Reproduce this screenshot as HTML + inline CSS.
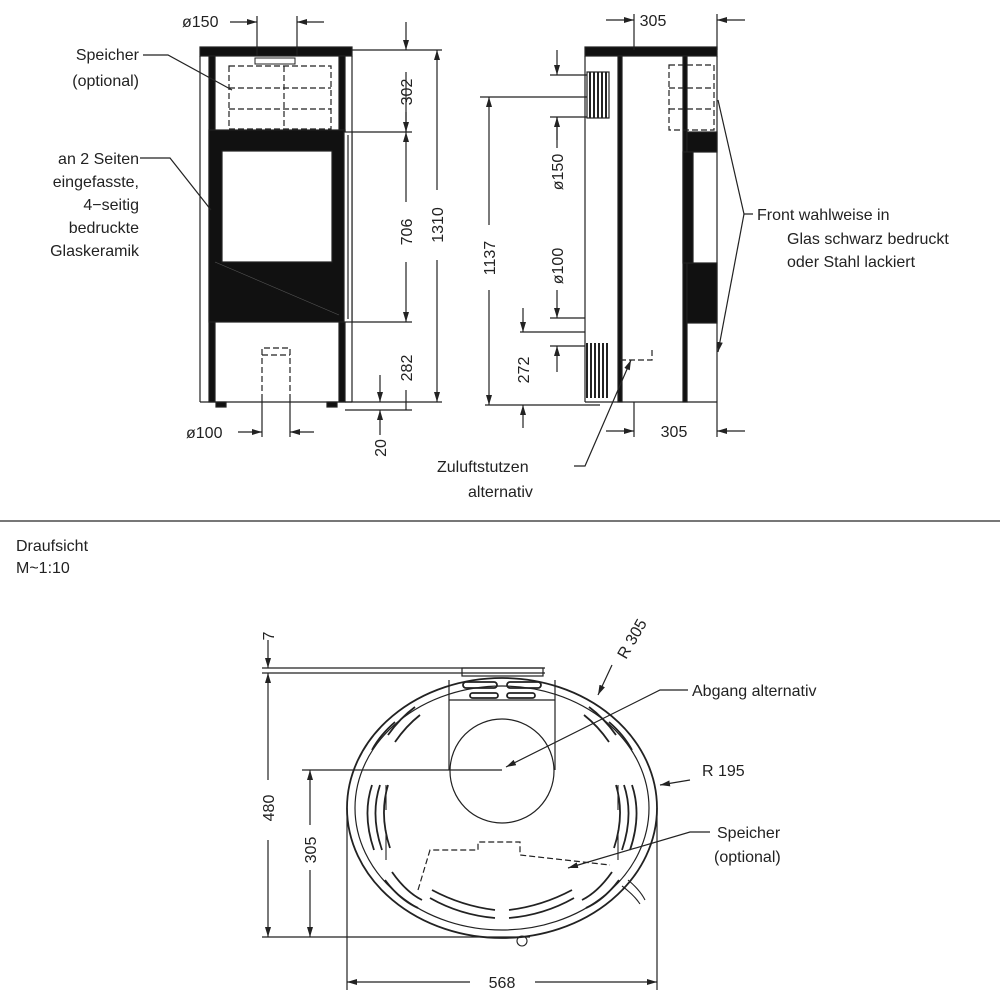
<!DOCTYPE html>
<html><head><meta charset="utf-8"><style>
html,body{margin:0;padding:0;background:#fff}
svg{display:block}
text{font-family:"Liberation Sans",sans-serif;font-size:16px;fill:#222}
</style></head><body>
<svg width="1000" height="1000" viewBox="0 0 1000 1000" xmlns="http://www.w3.org/2000/svg">
<defs>
<marker id="a" viewBox="0 0 10 6" refX="10" refY="3" markerWidth="10" markerHeight="6" orient="auto-start-reverse" markerUnits="userSpaceOnUse"><path d="M0,0 L10,3 L0,6z" fill="#222"/></marker>
</defs>
<g stroke="#222" fill="none" stroke-width="1.2">
<!-- FRONT VIEW -->
<rect x="200" y="47" width="152" height="9" fill="#111"/>
<line x1="200" y1="56" x2="200" y2="402"/>
<line x1="352" y1="56" x2="352" y2="402"/>
<rect x="209" y="56" width="6" height="346" fill="#111"/>
<rect x="339" y="56" width="6" height="346" fill="#111"/>
<line x1="200" y1="402" x2="352" y2="402"/>
<rect x="209" y="130" width="136" height="192" fill="#111"/>
<rect x="222" y="151" width="110" height="111" fill="#fff"/>
<line x1="215" y1="262" x2="339" y2="315" stroke="#555" stroke-width="0.6"/>
<rect x="344" y="132" width="8" height="190" fill="#fff"/>
<line x1="348" y1="135" x2="348" y2="319"/>
<g stroke-dasharray="6,3">
<rect x="229" y="66" width="102" height="63"/>
<line x1="229" y1="88" x2="331" y2="88"/><line x1="229" y1="109" x2="331" y2="109"/>
<line x1="284" y1="66" x2="284" y2="129"/>
<path d="M262,400 V348 H290 V400"/><line x1="262" y1="355" x2="290" y2="355"/>
</g>
<rect x="255" y="58" width="40" height="6" stroke-width="1"/>
<rect x="216" y="402" width="10" height="5" fill="#111"/><rect x="327" y="402" width="10" height="5" fill="#111"/>
<!-- front dims -->
<line x1="257" y1="16" x2="257" y2="56"/><line x1="297" y1="16" x2="297" y2="56"/>
<line x1="230" y1="22" x2="257" y2="22" marker-end="url(#a)"/><line x1="324" y1="22" x2="297" y2="22" marker-end="url(#a)"/>
<line x1="262" y1="400" x2="262" y2="437"/><line x1="290" y1="400" x2="290" y2="437"/>
<line x1="238" y1="432" x2="262" y2="432" marker-end="url(#a)"/><line x1="314" y1="432" x2="290" y2="432" marker-end="url(#a)"/>
<line x1="352" y1="50" x2="442" y2="50"/><line x1="352" y1="132" x2="412" y2="132"/>
<line x1="352" y1="322" x2="412" y2="322"/><line x1="345" y1="402" x2="442" y2="402"/><line x1="345" y1="410" x2="412" y2="410"/>
<line x1="406" y1="22" x2="406" y2="50" marker-end="url(#a)"/>
<line x1="406" y1="72" x2="406" y2="132"/><line x1="406" y1="112" x2="406" y2="132" marker-end="url(#a)"/>
<line x1="406" y1="132" x2="406" y2="202" marker-start="url(#a)"/>
<line x1="406" y1="262" x2="406" y2="322" marker-end="url(#a)"/>
<line x1="406" y1="390" x2="406" y2="410"/>
<line x1="437" y1="50" x2="437" y2="190" marker-start="url(#a)"/><line x1="437" y1="260" x2="437" y2="402" marker-end="url(#a)"/>
<line x1="380" y1="375" x2="380" y2="402" marker-end="url(#a)"/><line x1="380" y1="435" x2="380" y2="410" marker-end="url(#a)"/>
<!-- leaders -->
<polyline points="143,55 168,55 232,90"/><polyline points="140,158 170,158 211,210"/>
<!-- SIDE VIEW -->
<rect x="585" y="47" width="132" height="9" fill="#111"/>
<line x1="585" y1="56" x2="585" y2="402"/><line x1="717" y1="56" x2="717" y2="402"/>
<line x1="585" y1="402" x2="717" y2="402"/>
<rect x="618" y="56" width="4" height="346" fill="#111"/>
<rect x="683" y="56" width="4" height="346" fill="#111"/>
<rect x="687" y="132" width="30" height="20" fill="#111"/>
<rect x="687" y="263" width="30" height="60" fill="#111"/>
<rect x="683" y="152" width="10" height="111" fill="#111"/>
<g stroke-dasharray="6,3"><rect x="669" y="65" width="45" height="65"/><line x1="669" y1="88" x2="714" y2="88"/><line x1="669" y1="109" x2="714" y2="109"/><path d="M620,360 H652 V350"/></g>
<rect x="587" y="72" width="22" height="46" fill="#fff"/>
<g stroke-width="2"><line x1="590" y1="72" x2="590" y2="118"/><line x1="594" y1="72" x2="594" y2="118"/><line x1="598" y1="72" x2="598" y2="118"/><line x1="602" y1="72" x2="602" y2="118"/><line x1="606" y1="72" x2="606" y2="118"/>
<line x1="587" y1="343" x2="587" y2="398"/><line x1="591" y1="343" x2="591" y2="398"/><line x1="595" y1="343" x2="595" y2="398"/><line x1="599" y1="343" x2="599" y2="398"/><line x1="603" y1="343" x2="603" y2="398"/><line x1="607" y1="343" x2="607" y2="398"/></g>
<!-- side dims -->
<line x1="634" y1="14" x2="634" y2="50"/><line x1="717" y1="14" x2="717" y2="50"/>
<line x1="606" y1="20" x2="634" y2="20" marker-end="url(#a)"/><line x1="745" y1="20" x2="717" y2="20" marker-end="url(#a)"/>
<line x1="634" y1="402" x2="634" y2="437"/><line x1="717" y1="402" x2="717" y2="437"/>
<line x1="606" y1="431" x2="634" y2="431" marker-end="url(#a)"/><line x1="745" y1="431" x2="717" y2="431" marker-end="url(#a)"/>
<line x1="480" y1="97" x2="587" y2="97"/><line x1="485" y1="405" x2="600" y2="405"/>
<line x1="489" y1="97" x2="489" y2="225" marker-start="url(#a)"/><line x1="489" y1="290" x2="489" y2="405" marker-end="url(#a)"/>
<line x1="550" y1="75" x2="587" y2="75"/><line x1="550" y1="117" x2="587" y2="117"/>
<line x1="557" y1="50" x2="557" y2="75" marker-end="url(#a)"/><line x1="557" y1="140" x2="557" y2="117" marker-end="url(#a)"/>
<line x1="557" y1="117" x2="557" y2="148"/>
<line x1="550" y1="318" x2="585" y2="318"/><line x1="520" y1="332" x2="585" y2="332"/><line x1="550" y1="346" x2="585" y2="346"/>
<line x1="557" y1="290" x2="557" y2="318" marker-end="url(#a)"/><line x1="557" y1="372" x2="557" y2="346" marker-end="url(#a)"/>
<line x1="523" y1="308" x2="523" y2="332" marker-end="url(#a)"/><line x1="523" y1="428" x2="523" y2="405" marker-end="url(#a)"/>
<polyline points="753,214 744,214 718,100"/><line x1="744" y1="214" x2="718" y2="352" marker-end="url(#a)"/>
<polyline points="574,466 585,466 631,360" marker-end="url(#a)"/>
<!-- divider -->
<line x1="0" y1="521" x2="1000" y2="521" stroke="#777" stroke-width="2"/>
<!-- TOP VIEW -->
<line x1="262" y1="668" x2="545" y2="668"/><line x1="262" y1="673" x2="545" y2="673"/>
<rect x="462" y="668" width="81" height="8"/>
<ellipse cx="502" cy="808" rx="155" ry="130" stroke-width="1.8"/>
<ellipse cx="502" cy="808" rx="147" ry="122"/>
<path d="M449,680 V770 M555,680 V770 M449,700 H555"/>
<circle cx="502" cy="771" r="52"/>
<g stroke-width="1.8">
<rect x="463" y="682" width="34" height="6" rx="3"/><rect x="507" y="682" width="34" height="6" rx="3"/>
<rect x="470" y="693" width="28" height="5" rx="2.5"/><rect x="507" y="693" width="28" height="5" rx="2.5"/>
<path d="M372,785 Q362,815 374,850 M380,785 Q370,815 382,850 M388,785 Q379,815 390,848"/>
<path d="M632,785 Q642,815 630,850 M624,785 Q634,815 622,850 M616,785 Q625,815 614,848"/>
<path d="M430,898 Q460,915 495,918 M432,890 Q462,906 495,910 M574,898 Q544,915 509,918 M572,890 Q542,906 509,910"/>
<path d="M385,880 Q400,900 418,908 M392,872 Q406,892 422,900 M619,880 Q604,900 586,908 M612,872 Q598,892 582,900"/>
<path d="M415,707 Q400,718 388,735 M420,715 Q406,726 395,742 M589,707 Q604,718 616,735 M584,715 Q598,726 609,742"/>
<path d="M372,750 Q380,735 395,722 M632,750 Q624,735 609,722"/>
</g>
<g stroke-width="1.1">
<path d="M386,785 V810 M618,785 V810 M386,830 V860 M618,830 V860"/>
<circle cx="522" cy="941" r="5"/>
<path d="M628,880 Q640,890 645,900 M622,886 Q634,895 640,904"/>
</g>
<path d="M418,890 L430,850 H478 V842 H520 V855 L610,865" stroke-dasharray="6,3"/>
<!-- top dims -->
<line x1="268" y1="640" x2="268" y2="668" marker-end="url(#a)"/>
<line x1="268" y1="673" x2="268" y2="780" marker-start="url(#a)"/><line x1="268" y1="840" x2="268" y2="937" marker-end="url(#a)"/>
<line x1="262" y1="937" x2="530" y2="937"/>
<line x1="302" y1="770" x2="502" y2="770"/>
<line x1="310" y1="770" x2="310" y2="825" marker-start="url(#a)"/><line x1="310" y1="870" x2="310" y2="937" marker-end="url(#a)"/>
<line x1="347" y1="808" x2="347" y2="990"/><line x1="657" y1="808" x2="657" y2="990"/>
<line x1="347" y1="982" x2="470" y2="982" marker-start="url(#a)"/><line x1="535" y1="982" x2="657" y2="982" marker-end="url(#a)"/>
<line x1="612" y1="665" x2="598" y2="695" marker-end="url(#a)"/>
<polyline points="688,690 660,690 506,767" marker-end="url(#a)"/>
<line x1="690" y1="780" x2="660" y2="785" marker-end="url(#a)"/>
<polyline points="710,832 690,832 568,868" marker-end="url(#a)"/>
</g>
<g>
<text x="182" y="27">ø150</text>
<text x="186" y="438">ø100</text>
<text x="139" y="60" text-anchor="end">Speicher</text>
<text x="139" y="86" text-anchor="end">(optional)</text>
<text x="139" y="164" text-anchor="end">an 2 Seiten</text>
<text x="139" y="187" text-anchor="end">eingefasste,</text>
<text x="139" y="210" text-anchor="end">4−seitig</text>
<text x="139" y="233" text-anchor="end">bedruckte</text>
<text x="139" y="256" text-anchor="end">Glaskeramik</text>
<text transform="translate(412,92) rotate(-90)" text-anchor="middle">302</text>
<text transform="translate(412,232) rotate(-90)" text-anchor="middle">706</text>
<text transform="translate(412,368) rotate(-90)" text-anchor="middle">282</text>
<text transform="translate(443,225) rotate(-90)" text-anchor="middle">1310</text>
<text transform="translate(386,448) rotate(-90)" text-anchor="middle">20</text>
<text x="653" y="26" text-anchor="middle">305</text>
<text x="674" y="437" text-anchor="middle">305</text>
<text transform="translate(495,258) rotate(-90)" text-anchor="middle">1137</text>
<text transform="translate(563,172) rotate(-90)" text-anchor="middle">ø150</text>
<text transform="translate(563,266) rotate(-90)" text-anchor="middle">ø100</text>
<text transform="translate(529,370) rotate(-90)" text-anchor="middle">272</text>
<text x="757" y="220">Front wahlweise in</text>
<text x="787" y="244">Glas schwarz bedruckt</text>
<text x="787" y="267">oder Stahl lackiert</text>
<text x="437" y="472">Zuluftstutzen</text>
<text x="468" y="497">alternativ</text>
<text x="16" y="551">Draufsicht</text>
<text x="16" y="573">M~1:10</text>
<text transform="translate(274,636) rotate(-90)" text-anchor="middle">7</text>
<text transform="translate(274,808) rotate(-90)" text-anchor="middle">480</text>
<text transform="translate(316,850) rotate(-90)" text-anchor="middle">305</text>
<text x="502" y="988" text-anchor="middle">568</text>
<text transform="translate(626,660) rotate(-60)">R 305</text>
<text x="692" y="696">Abgang alternativ</text>
<text x="702" y="776">R 195</text>
<text x="717" y="838">Speicher</text>
<text x="714" y="862">(optional)</text>
</g>
</svg>
</body></html>
